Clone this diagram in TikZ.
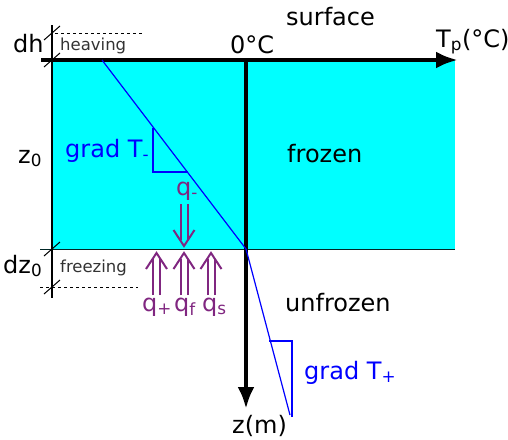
\documentclass[tikz,border=0pt]{standalone}
\usepackage{fontspec}
\setmainfont{DejaVu Sans}
\usetikzlibrary{arrows.meta}
\definecolor{purp}{RGB}{128,38,128}
\definecolor{cyanfill}{RGB}{0,255,255}
\tikzset{
  big/.style={font=\fontsize{24}{26}\selectfont, inner sep=0pt, anchor=base west},
  small/.style={font=\fontsize{16.5}{18}\selectfont, inner sep=0pt, text=black!80, anchor=base west},
  tickmark/.style={line width=1pt},
  dashline/.style={dashed, line width=0.8pt},
  qline/.style={draw=purp, line width=2pt},
  blueline/.style={blue, line width=1.2pt},
  axis/.style={line width=4.5pt, -{Latex[length=22pt,width=17pt]}},
}
\newcommand{\uparr}[3]{% x, bottom, tip
  \draw[qline] (#1-3.5,#2) -- (#1-3.5,#3+6);
  \draw[qline] (#1+3.5,#2) -- (#1+3.5,#3+6);
  \draw[qline, line join=miter] (#1-10.5,#3+16) -- (#1,#3) -- (#1+10.5,#3+16);
}
\newcommand{\downarr}[3]{% x, top, tip
  \draw[qline] (#1-3.5,#2) -- (#1-3.5,#3-6);
  \draw[qline] (#1+3.5,#2) -- (#1+3.5,#3-6);
  \draw[qline, line join=miter] (#1-10.5,#3-16) -- (#1,#3) -- (#1+10.5,#3-16);
}
\begin{document}
\begin{tikzpicture}[x=1pt,y=-1pt]
\useasboundingbox (0,0) rectangle (508,439);
% frozen zone
\fill[cyanfill] (52,60) rectangle (455,249);
\draw[black!70!teal, line width=1pt] (40,249) -- (455,249);
% left vertical line
\coordinate (ltop) at (52,25);
\coordinate (lbot) at (52,298);
\draw[line width=1.8pt] (ltop) -- (lbot);
% ticks
\foreach \yy in {33,60,249,287} \draw[tickmark] (44,\yy+7) -- (60,\yy-7);
% dashed lines
\coordinate (d1a) at (55,33); \coordinate (d1b) at (143,33);
\coordinate (d2a) at (40,287); \coordinate (d2b) at (138,287);
\draw[dashline] (d1a) -- (d1b);
\draw[dashline] (d2a) -- (d2b);
% axes
\coordinate (origin) at (246,60);
\coordinate (xstart) at (41,60);
\coordinate (xend) at (458,60);
\coordinate (zend) at (246,409);
\draw[axis] (xstart) -- (xend);
\draw[axis] (origin) -- (zend);
% temperature profile
\coordinate (p0) at (102,60);
\coordinate (p1) at (246,249);
\coordinate (p2) at (290,415);
\draw[blueline] (p0) -- (p1) -- (p2);
% gradient triangles
\coordinate (t1a) at (153,128); \coordinate (t1b) at (153,172); \coordinate (t1c) at (188,172);
\draw[blueline, line width=2pt] (t1a) -- (t1b) -- (t1c);
\coordinate (t2a) at (269,341); \coordinate (t2b) at (292,341); \coordinate (t2c) at (292,417);
\draw[blueline, line width=2pt] (t2a) -- (t2b) -- (t2c);
% labels
\node[big] (surface) at (286,25) {surface};
\node[big] (zeroC) at (230,53) {0°C};
\node[big] (Tp) at (436,47) {T\textsubscript{p}(°C)};
\node[big] (dh) at (13,52) {dh};
\node[small] (heaving) at (60,50) {heaving};
\node[big] (z0) at (18,163) {z\textsubscript{0}};
\node[big] (dz0) at (3,273) {dz\textsubscript{0}};
\node[small] (freezing) at (60,272) {freezing};
\node[big] (frozen) at (287,162) {frozen};
\node[big] (unfrozen) at (285,311) {unfrozen};
\node[big, text=blue] (gradm) at (65,157) {grad T\textsubscript{-}};
\node[big, text=blue] (gradp) at (304,379) {grad T\textsubscript{+}};
\node[big] (zm) at (232,433) {z(m)};
% heat fluxes
\node[big, text=purp] (qm) at (176,195) {q\textsubscript{-}};
\downarr{184}{204}{246}
\uparr{156.5}{295}{253}
\uparr{184}{295}{253}
\uparr{211}{295}{253}
\node[big, text=purp] (qp) at (142,311) {q\textsubscript{+}};
\node[big, text=purp] (qf) at (174,311) {q\textsubscript{f}};
\node[big, text=purp] (qs) at (202,311) {q\textsubscript{s}};
\end{tikzpicture}
\end{document}
